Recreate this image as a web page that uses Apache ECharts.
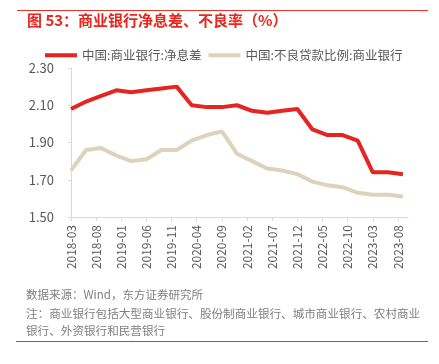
<!DOCTYPE html>
<html>
<head>
<meta charset="utf-8">
<script src="https://cdn.jsdelivr.net/npm/echarts@6/dist/echarts.min.js"></script>
<style>
html,body{margin:0;padding:0;background:#fff;}
#c{width:439px;height:364px;}
</style>
</head>
<body>
<div id="c"></div>
<script>
// Quarterly data, 2018-03 to 2023-09
var quarters = ['2018-03','2018-06','2018-09','2018-12','2019-03','2019-06','2019-09','2019-12',
  '2020-03','2020-06','2020-09','2020-12','2021-03','2021-06','2021-09','2021-12',
  '2022-03','2022-06','2022-09','2022-12','2023-03','2023-06','2023-09'];
var nim = [2.08,2.12,2.15,2.18,2.17,2.18,2.19,2.20,2.10,2.09,2.09,2.10,2.07,2.06,2.07,2.08,1.97,1.94,1.94,1.91,1.74,1.74,1.73];
var npl = [1.75,1.86,1.87,1.83,1.80,1.81,1.86,1.86,1.91,1.94,1.96,1.84,1.80,1.76,1.75,1.73,1.69,1.67,1.66,1.63,1.62,1.62,1.61];
var seriesNames = ['中国:商业银行:净息差','中国:不良贷款比例:商业银行'];
var yTicks = [1.50,1.70,1.90,2.10,2.30];

// monthly category axis 2018-03 .. 2023-10
var months = [];
(function(){
  var y = 2018, m = 3;
  while (y < 2023 || (y === 2023 && m <= 10)) {
    months.push(y + '-' + (m < 10 ? '0' + m : '' + m));
    m++; if (m > 12) { m = 1; y++; }
  }
})();
function toMonthly(vals){
  var map = {};
  quarters.forEach(function(q,i){ map[q] = vals[i]; });
  return months.map(function(mm){ return map.hasOwnProperty(mm) ? map[mm] : null; });
}

var font = '"Noto Sans CJK SC", "Noto Sans", sans-serif';
var chart = echarts.init(document.getElementById('c'));
chart.setOption({
  animation: false,
  textStyle: {fontFamily: font},
  grid: {left: 71, top: 68, width: 337, height: 149},
  legend: {
    left: 40, top: 44,
    itemWidth: 32, itemHeight: 4, itemGap: 7,
    icon: 'rect',
    textStyle: {fontSize: 12.5, color: '#595959', fontFamily: font},
    data: seriesNames
  },
  xAxis: {
    type: 'category',
    data: months,
    boundaryGap: false,
    axisLine: {lineStyle: {color: '#d9d9d9', width: 1}},
    axisTick: {show: true, interval: 4, length: 4, lineStyle: {color: '#d9d9d9'}},
    axisLabel: {interval: 4, rotate: 90, fontSize: 12, color: '#595959', margin: 8, fontFamily: font}
  },
  yAxis: {
    type: 'value',
    min: 1.5, max: 2.3, interval: 0.2,
    axisLine: {show: true, lineStyle: {color: '#d9d9d9'}},
    axisTick: {show: true, length: 3, lineStyle: {color: '#d9d9d9'}},
    splitLine: {show: false},
    axisLabel: {fontSize: 13, color: '#595959', margin: 17, fontFamily: font,
      formatter: function(v){ return v.toFixed(2); }}
  },
  series: [
    {name: seriesNames[0], type: 'line', data: toMonthly(nim), connectNulls: true,
     showSymbol: false, symbol: 'none', lineStyle: {color: '#E52521', width: 4}, itemStyle: {color: '#E52521'}, z: 3},
    {name: seriesNames[1], type: 'line', data: toMonthly(npl), connectNulls: true,
     showSymbol: false, symbol: 'none', lineStyle: {color: '#DDD3BC', width: 4}, itemStyle: {color: '#DDD3BC'}, z: 2}
  ],
  graphic: [
    {type: 'line', shape: {x1: 17, y1: 10.5, x2: 428, y2: 10.5}, style: {stroke: '#E8322A', lineWidth: 1}},
    {type: 'text', left: 27, top: 13, style: {text: '图 53：商业银行净息差、不良率（%）', fill: '#E8261E', font: 'bold 15px ' + font}},
    {type: 'text', left: 26, top: 289, style: {text: '数据来源：Wind，东方证券研究所', fill: '#7F7F7F', font: '11.5px ' + font}},
    {type: 'text', left: 26, top: 308, style: {text: '注：商业银行包括大型商业银行、股份制商业银行、城市商业银行、农村商业', fill: '#7F7F7F', font: '11.6px ' + font}},
    {type: 'text', left: 26, top: 325, style: {text: '银行、外资银行和民营银行', fill: '#7F7F7F', font: '11.6px ' + font}},
    {type: 'line', shape: {x1: 16, y1: 341.5, x2: 428, y2: 341.5}, style: {stroke: '#E8322A', lineWidth: 1}}
  ]
});
</script>
</body>
</html>
